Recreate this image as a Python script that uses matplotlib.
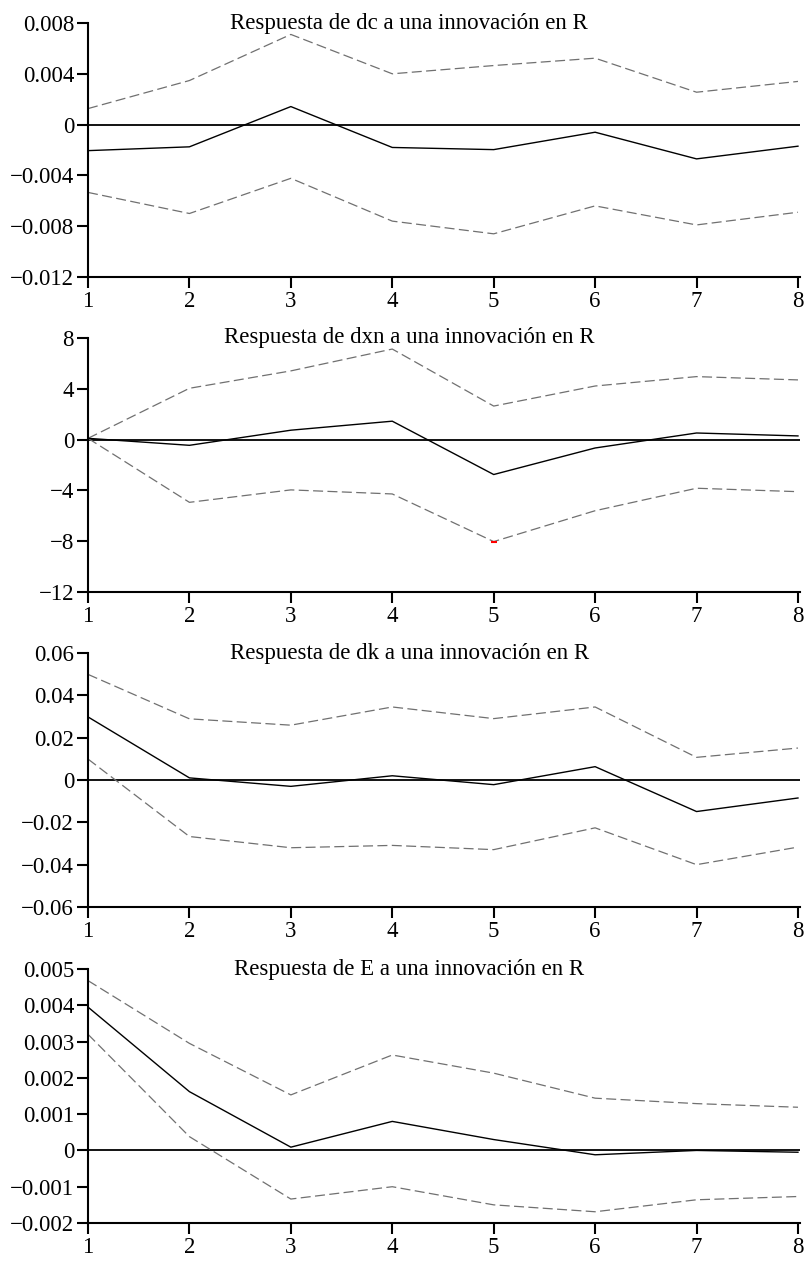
import numpy as np
import matplotlib
matplotlib.use("Agg")
import matplotlib.pyplot as plt

plt.rcParams['font.family'] = ['Liberation Serif', 'DejaVu Serif']
plt.rcParams['font.size'] = 16.5

periods = [1, 2, 3, 4, 5, 6, 7, 8]

# Respuesta de dc
dc_mid = [-0.00205, -0.00175, 0.00142, -0.0018, -0.00197, -0.0006, -0.0027, -0.0017]
dc_up = [0.00126, 0.00347, 0.0071, 0.0040, 0.00465, 0.00523, 0.00255, 0.0034]
dc_lo = [-0.00534, -0.0070, -0.00423, -0.0076, -0.0086, -0.0064, -0.0079, -0.0069]

# Respuesta de dxn
dxn_mid = [0.1, -0.45, 0.74, 1.45, -2.75, -0.66, 0.52, 0.29]
dxn_up = [0.1, 4.04, 5.41, 7.13, 2.64, 4.22, 4.96, 4.7]
dxn_lo = [0.1, -4.94, -3.96, -4.28, -8.03, -5.6, -3.83, -4.1]

# Respuesta de dk
dk_mid = [0.0298, 0.001, -0.003, 0.002, -0.0022, 0.0063, -0.0149, -0.0085]
dk_up = [0.0499, 0.0289, 0.0259, 0.0345, 0.029, 0.0345, 0.0107, 0.0151]
dk_lo = [0.0099, -0.0267, -0.032, -0.0309, -0.0329, -0.0226, -0.040, -0.0317]

# Respuesta de E
e_mid = [0.00395, 0.00162, 0.00009, 0.0008, 0.0003, -0.00012, 0.0, -0.00005]
e_up = [0.00468, 0.00295, 0.00153, 0.00263, 0.00213, 0.00144, 0.00129, 0.00119]
e_lo = [0.0032, 0.00038, -0.00134, -0.0010, -0.0015, -0.00169, -0.00136, -0.00127]

titles = ["Respuesta de dc a una innovación en R",
          "Respuesta de dxn a una innovación en R",
          "Respuesta de dk a una innovación en R",
          "Respuesta de E a una innovación en R"]
yticks = [[0.008, 0.004, 0, -0.004, -0.008, -0.012],
          [8, 4, 0, -4, -8, -12],
          [0.06, 0.04, 0.02, 0, -0.02, -0.04, -0.06],
          [0.005, 0.004, 0.003, 0.002, 0.001, 0, -0.001, -0.002]]
ylabels = [["0.008", "0.004", "0", "\u22120.004", "\u22120.008", "\u22120.012"],
           ["8", "4", "0", "\u22124", "\u22128", "\u221212"],
           ["0.06", "0.04", "0.02", "0", "\u22120.02", "\u22120.04", "\u22120.06"],
           ["0.005", "0.004", "0.003", "0.002", "0.001", "0", "\u22120.001", "\u22120.002"]]
series = [(dc_mid, dc_up, dc_lo), (dxn_mid, dxn_up, dxn_lo),
          (dk_mid, dk_up, dk_lo), (e_mid, e_up, e_lo)]

fig = plt.figure(figsize=(8.08, 12.63), dpi=100)
tops = [23, 338, 653, 969]
h = 254

for i in range(4):
    top = tops[i]
    ax = fig.add_axes([88 / 808, 1 - (top + h) / 1263, (800 - 88) / 808, h / 1263])
    mid, up, lo = series[i]
    ax.axhline(0, color='black', lw=1.3, zorder=1)
    ax.plot(periods, up, color='#707070', lw=0.9, dashes=(8, 3.5))
    ax.plot(periods, lo, color='#707070', lw=0.9, dashes=(8, 3.5))
    ax.plot(periods, mid, color='black', lw=1.0)
    if i == 1:
        ax.plot(periods[4], lo[4], marker='_', color='red', ms=5, mew=1.5)
    ax.set_xlim(1, 8.02)
    ax.set_ylim(yticks[i][-1], yticks[i][0])
    ax.set_yticks(yticks[i])
    ax.set_yticklabels(ylabels[i])
    ax.set_xticks(periods)
    ax.set_xticklabels([str(p) for p in periods])
    for s in ['top', 'right']:
        ax.spines[s].set_visible(False)
    for s in ['left', 'bottom']:
        ax.spines[s].set_linewidth(1.5)
    ax.tick_params(direction='out', length=8, width=1.5, pad=2, colors='black')
    ax.text(0.451, 1.0, titles[i], transform=ax.transAxes, ha='center', va='center')

fig.savefig("out.png", dpi=100)
